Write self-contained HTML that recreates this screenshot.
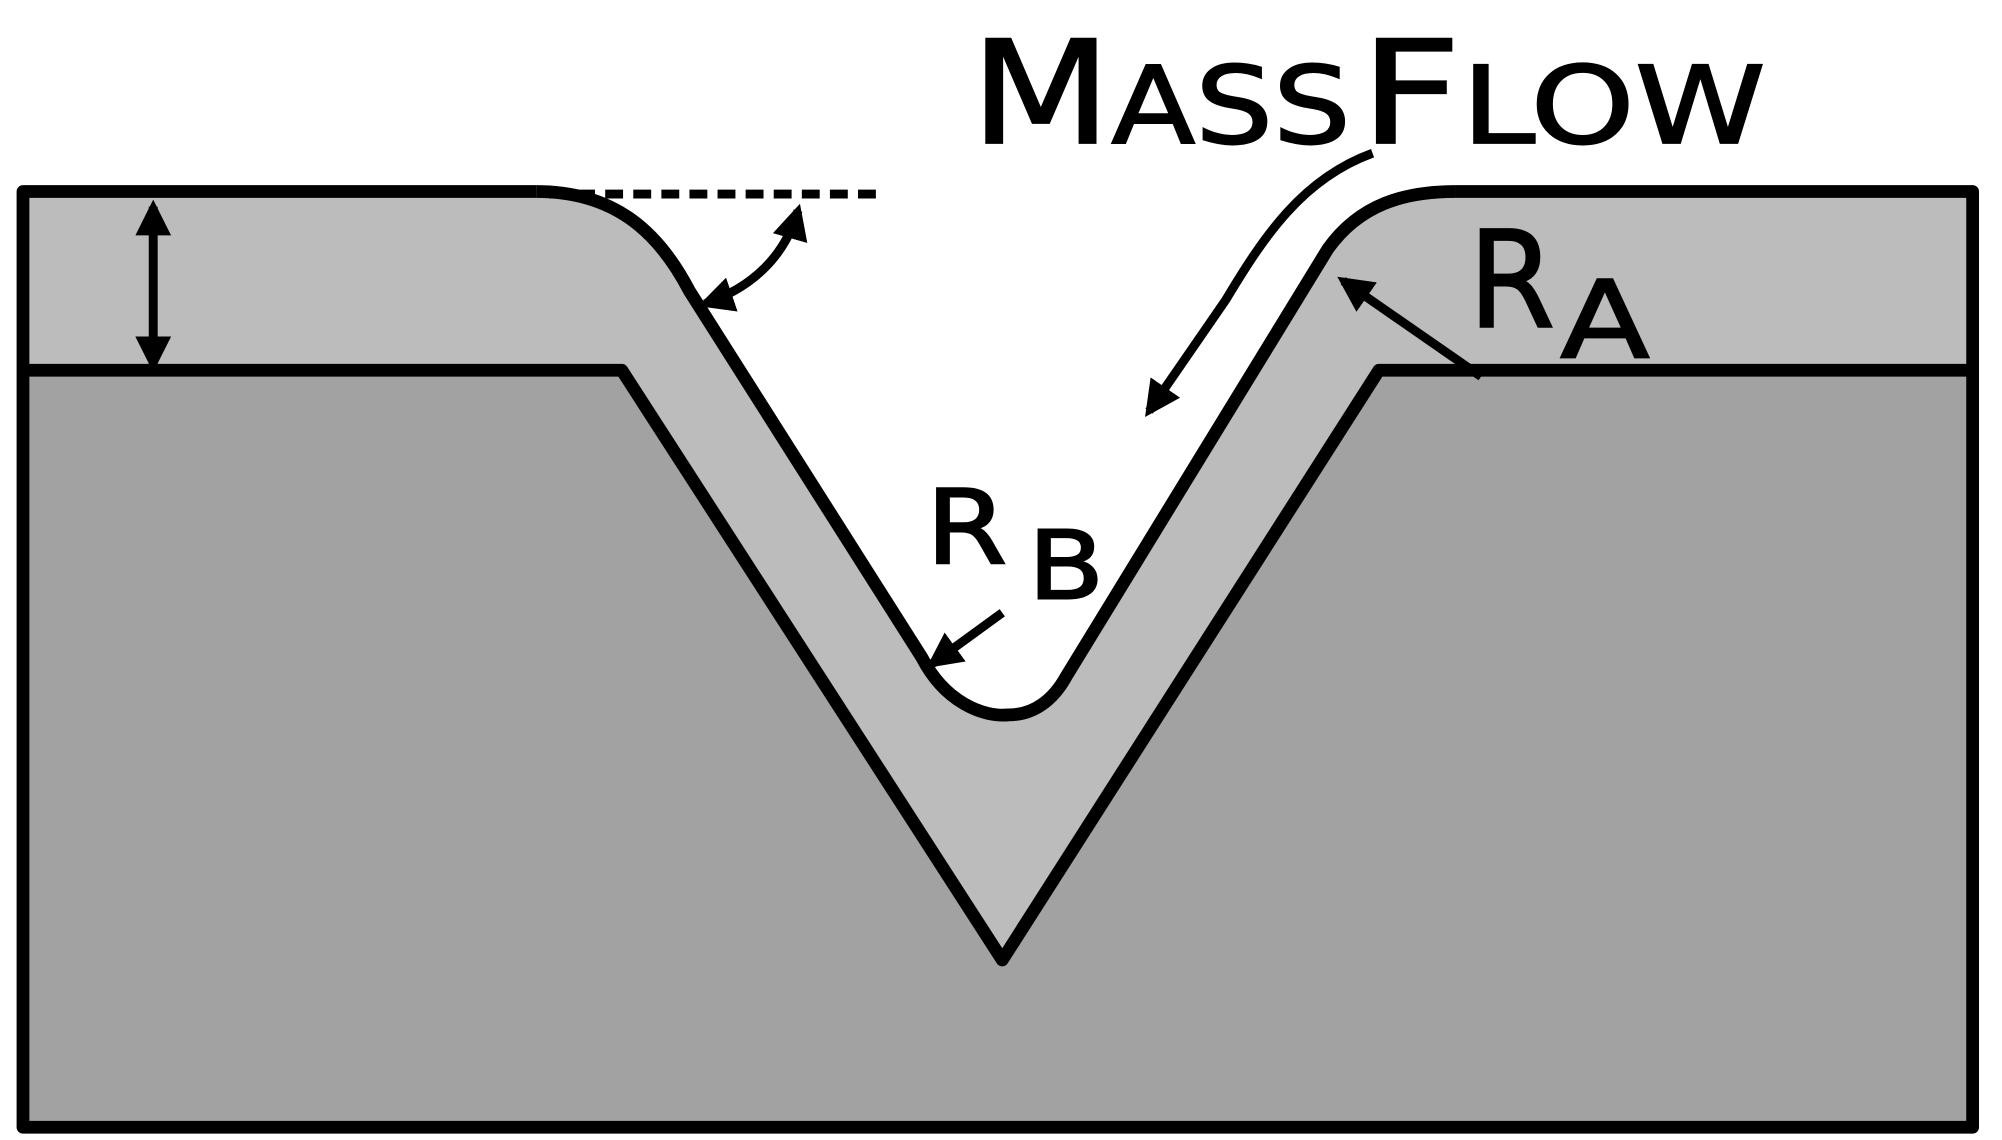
<!DOCTYPE html>
<html><head><meta charset="utf-8"><style>html,body{margin:0;padding:0;background:#fff;}svg{display:block}</style></head>
<body>
<svg width="2002" height="1140" viewBox="0 0 1568 893" preserveAspectRatio="none" xmlns="http://www.w3.org/2000/svg">
<defs>
<marker id="ah" viewBox="0 0 10 10" refX="8" refY="5" markerWidth="4" markerHeight="4" orient="auto-start-reverse"><path d="M0,0 L10,5 L0,10 z" fill="#000"/></marker>
</defs>
<rect x="18" y="148" width="1527" height="735" fill="#a2a2a2"/>
<path d="M18,150 L420,150 C480,150 515,180 540,228 L722,515 C740,550 770,562 790,560 C810,560 825,548 835,530 L1040,195 C1065,160 1100,150 1140,150 L1545,150 L1545,290 L1080,290 L785,752 L487,290 L18,290 Z" fill="#bcbcbc"/>
<path d="M420,150 C480,150 515,180 540,228 L722,515 C740,550 770,562 790,560 C810,560 825,548 835,530 L1040,195 C1065,160 1100,150 1140,150 L1140,0 L420,0 Z" fill="#fff"/>
<g fill="none" stroke="#000" stroke-width="10" stroke-linejoin="round">
<path d="M420,150 C480,150 515,180 540,228 L722,515 C740,550 770,562 790,560 C810,560 825,548 835,530 L1040,195 C1065,160 1100,150 1140,150"/>
<path d="M420,150 L18,150 L18,883 L1545,883 L1545,150 L1140,150"/>
<path d="M18,290 L487,290 L785,752 L1080,290 L1545,290"/>
</g>
<line x1="430" y1="152" x2="690" y2="152" stroke="#000" stroke-width="7" stroke-dasharray="14,8"/>
<g fill="none" stroke="#000" stroke-width="7">
<path d="M625,165 C615,200 590,225 552,238" marker-start="url(#ah)" marker-end="url(#ah)"/>
<line x1="120" y1="162" x2="120" y2="286" marker-start="url(#ah)" marker-end="url(#ah)"/>
<line x1="1160" y1="295" x2="1052" y2="220" marker-end="url(#ah)"/>
<line x1="785" y1="480" x2="730" y2="520" marker-end="url(#ah)"/>
<path d="M1075,120 C1020,140 990,185 960,235 L900,322" marker-end="url(#ah)"/>
</g>
<g font-family="DejaVu Sans, Liberation Sans, sans-serif" fill="#000" stroke="#000" stroke-width="1.5">
<text x="760" y="112" font-size="112" textLength="298" lengthAdjust="spacingAndGlyphs">M<tspan font-size="84">ASS</tspan></text>
<text x="1065" y="112" font-size="112" textLength="318" lengthAdjust="spacingAndGlyphs">F<tspan font-size="84">LOW</tspan></text>
<text x="1150" y="256" font-size="105" textLength="68" lengthAdjust="spacingAndGlyphs">R</text>
<text x="1222" y="280" font-size="84" textLength="70" lengthAdjust="spacingAndGlyphs">A</text>
<text x="725" y="441" font-size="80" textLength="64" lengthAdjust="spacingAndGlyphs">R</text>
<text x="805" y="469" font-size="74" textLength="60" lengthAdjust="spacingAndGlyphs">B</text>
</g>
</svg>
</body></html>
